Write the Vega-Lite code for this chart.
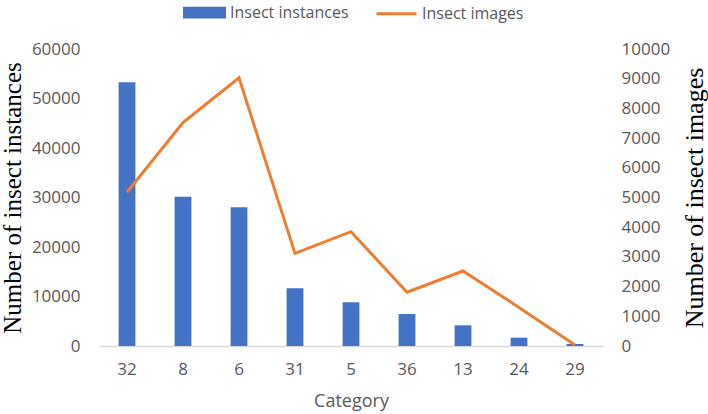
{
  "$schema": "https://vega.github.io/schema/vega-lite/v6.json",
  "autosize": {"type": "none"},
  "width": 504,
  "height": 297,
  "padding": {"left": 99, "top": 49, "right": 105, "bottom": 68},
  "config": {
    "view": {"stroke": null},
    "font": "Open Sans"
  },
  "data": {
    "values": [
      {"category": "32", "instances": 53270, "images": 5175},
      {"category": "8", "instances": 30160, "images": 7520},
      {"category": "6", "instances": 28020, "images": 9030},
      {"category": "31", "instances": 11650, "images": 3120},
      {"category": "5", "instances": 8830, "images": 3850},
      {"category": "36", "instances": 6460, "images": 1810},
      {"category": "13", "instances": 4180, "images": 2525},
      {"category": "24", "instances": 1680, "images": 1300},
      {"category": "29", "instances": 400, "images": 30}
    ]
  },
  "encoding": {
    "x": {
      "field": "category",
      "type": "nominal",
      "sort": null,
      "scale": {"paddingInner": 0.7, "paddingOuter": 0.35},
      "axis": {
        "title": "Category",
        "titleFont": "Open Sans",
        "titleFontSize": 18,
        "titleFontWeight": "normal",
        "titleColor": "#595959",
        "titlePadding": 15,
        "labelAngle": 0,
        "labelFont": "Open Sans",
        "labelFontSize": 17,
        "labelColor": "#595959",
        "labelPadding": 15,
        "ticks": false,
        "domainColor": "#d9d9d9",
        "domainWidth": 1.5,
        "grid": false
      }
    }
  },
  "layer": [
    {
      "mark": {"type": "bar"},
      "encoding": {
        "y": {
          "field": "instances",
          "type": "quantitative",
          "scale": {"domain": [0, 60000]},
          "axis": {
            "title": "Number of insect instances",
            "titleFont": "Liberation Serif",
            "titleFontSize": 25,
            "titleFontWeight": "normal",
            "titleColor": "#000000",
            "titlePadding": 6,
            "values": [0, 10000, 20000, 30000, 40000, 50000, 60000],
            "format": "d",
            "labelFont": "Open Sans",
            "labelFontSize": 17,
            "labelColor": "#595959",
            "labelPadding": 19,
            "ticks": false,
            "domain": false,
            "grid": false
          }
        },
        "color": {
          "datum": "Insect instances",
          "type": "nominal",
          "scale": {
            "domain": ["Insect instances", "Insect images"],
            "range": ["#4472C4", "#ED7D31"]
          },
          "legend": {
            "title": null,
            "orient": "none",
            "direction": "horizontal",
            "legendX": 84,
            "legendY": -58,
            "padding": 0,
            "symbolSize": 1600,
            "labelFont": "Open Sans",
            "labelFontSize": 16,
            "labelColor": "#595959",
            "labelOffset": 4,
            "columnPadding": 21,
            "encode": {
              "symbols": {
                "update": {
                  "shape": {"signal": "datum.value === 'Insect images' ? 'M-1,0H1' : 'M-1,-0.22H1V0.22H-1Z'"},
                  "fill": {"signal": "datum.value === 'Insect images' ? 'transparent' : '#4472C4'"},
                  "stroke": {"signal": "datum.value === 'Insect images' ? '#ED7D31' : 'transparent'"},
                  "strokeWidth": {"value": 3},
                  "opacity": {"value": 1},
                  "fillOpacity": {"value": 1}
                }
              }
            }
          }
        }
      }
    },
    {
      "mark": {"type": "line", "strokeWidth": 3},
      "encoding": {
        "y": {
          "field": "images",
          "type": "quantitative",
          "scale": {"domain": [0, 10000]},
          "axis": {
            "orient": "right",
            "title": "Number of insect images",
            "titleFont": "Liberation Serif",
            "titleFontSize": 26,
            "titleFontWeight": "normal",
            "titleColor": "#000000",
            "titleAngle": -90,
            "titleBaseline": "top",
            "titlePadding": 12,
            "values": [0, 1000, 2000, 3000, 4000, 5000, 6000, 7000, 8000, 9000, 10000],
            "format": "d",
            "labelFont": "Open Sans",
            "labelFontSize": 17,
            "labelColor": "#595959",
            "labelPadding": 18,
            "ticks": false,
            "domain": false,
            "grid": false
          }
        },
        "color": {"datum": "Insect images", "type": "nominal"}
      }
    }
  ],
  "resolve": {"scale": {"y": "independent"}}
}
